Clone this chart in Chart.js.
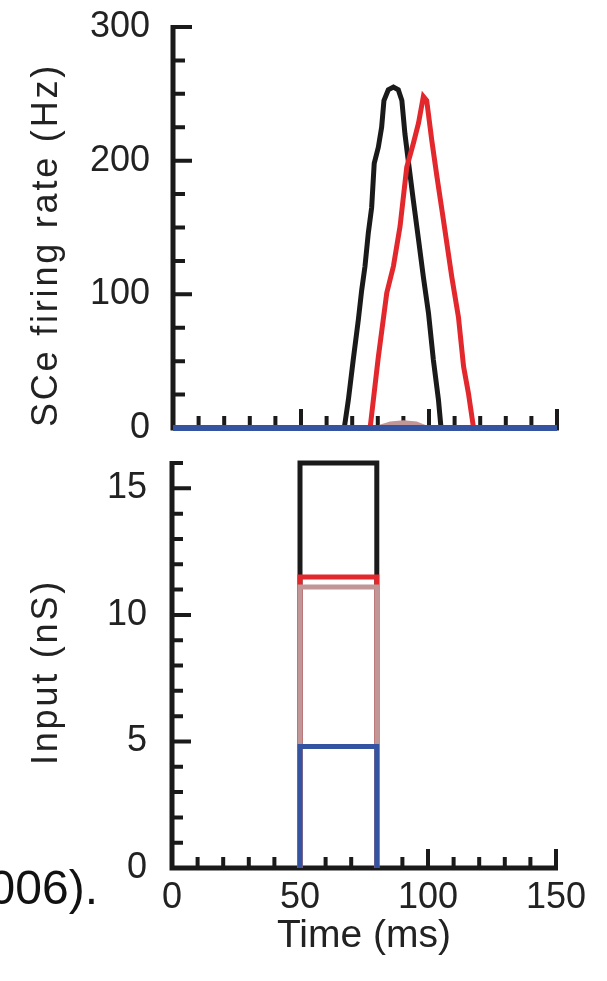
<!DOCTYPE html>
<html>
<head>
<meta charset="utf-8">
<title>SCe firing rate and input</title>
<script src="https://cdn.jsdelivr.net/npm/chart.js@4.4.0/dist/chart.umd.min.js"></script>
<style>
  body { margin: 0; background: #fff; }
  #wrap { position: relative; width: 607px; height: 981px; overflow: hidden; }
  #rate-box { position: absolute; left: 0; top: 0; width: 607px; height: 460px; }
  #input-box { position: absolute; left: 0; top: 440px; width: 607px; height: 541px; }
  .y-title {
    position: absolute;
    white-space: nowrap;
    font: 36px "Liberation Sans", Arial, sans-serif;
    line-height: 36px;
    letter-spacing: 2.8px;
    color: #222;
    transform: translate(-50%, -50%) rotate(-90deg);
  }
  #rate-title { left: 45px; top: 245px; }
  #input-title { left: 45px; top: 672px; }
  #cut-text {
    position: absolute;
    right: 509px;
    top: 864px;
    white-space: nowrap;
    font: 48px "Liberation Sans", Arial, sans-serif;
    line-height: 48px;
    color: #111;
  }
</style>
</head>
<body>
<div id="wrap">
  <div id="rate-box"><canvas id="rate-chart" width="607" height="460"></canvas></div>
  <div id="input-box"><canvas id="input-chart" width="607" height="541"></canvas></div>
  <div class="y-title" id="rate-title">SCe firing rate (Hz)</div>
  <div class="y-title" id="input-title">Input (nS)</div>
  <div id="cut-text">006).</div>
</div>
<script>
// tick labels
const timeTicks = [0, 50, 100, 150];
const rateTicks = [0, 100, 200, 300];
const inputTicks = [0, 5, 10, 15];

// SCe firing rate traces (Hz) against time (ms)
const blackTimes = [66.9, 68.5, 70.4, 72.4, 73.7, 75.0, 76.3, 77.6, 78.6, 80.2, 81.5, 82.4, 84.1, 86.1, 88.0, 89.4, 90.6, 91.9, 93.9, 95.9, 97.8, 99.8, 101.7, 103.7, 104.7];
const blackRate = [0, 21, 51, 81, 103, 121, 146, 165, 198, 210, 225, 245, 253, 255, 253, 245, 220, 200, 170, 141, 113, 86, 51, 21, 0];
const redTimes = [77.0, 80.2, 83.5, 86.1, 88.7, 91.3, 93.9, 95.9, 97.8, 99.1, 101.1, 103.1, 105.6, 108.9, 111.5, 113.5, 115.4, 117.4];
const redRate = [0, 53, 101, 121, 151, 195, 213, 228, 248, 245, 215, 188, 156, 113, 83, 46, 26, 0];
const pinkTimes = [80, 85, 90, 95, 99];
const pinkRate = [0, 3, 4, 3, 0];
const blueTimes = [0, 150];
const blueRate = [0, 0];

// input pulses (nS), on from 50 to 80 ms
const pulseTimes = [50, 50, 80, 80];
const blackInput = [0, 16, 16, 0];
const redInput = [0, 11.5, 11.5, 0];
const pinkInput = [0, 11.1, 11.1, 0];
const blueInput = [0, 4.8, 4.8, 0];

const BLACK = "#1a1a1a";
const RED = "#e2282c";
const PINK = "#c09697";
const BLUE = "#3454a2";

Chart.defaults.font.family = '"Liberation Sans", Arial, sans-serif';
Chart.defaults.color = "#222";

// pair up x and y arrays for a line dataset
function points(xs, ys) {
    return xs.map((x, i) => ({ x: x, y: ys[i] }));
}

function trace(label, xs, ys, color, width) {
    return {
        label: label,
        data: points(xs, ys),
        borderColor: color,
        borderWidth: width,
        pointRadius: 0,
        tension: 0,
        fill: false,
        clip: false,
        borderJoinStyle: "miter",
        borderCapStyle: "butt"
    };
}

// fixed y-axis box; drop the label overhang so the plot keeps its height
function fixYAxis(width) {
    return s => {
        s.width = width;
        s.paddingTop = 0;
        s.paddingBottom = 0;
    };
}

// axis lines with inward ticks, placed through the chart's scales
const inwardAxes = {
    id: "inwardAxes",
    beforeDatasetsDraw(chart, args, opts) {
        const ctx = chart.ctx;
        const xs = chart.scales.x;
        const ys = chart.scales.y;
        const x0 = xs.getPixelForValue(xs.min);
        const y0 = ys.getPixelForValue(ys.min);
        ctx.save();
        ctx.strokeStyle = BLACK;
        ctx.lineCap = "butt";
        ctx.lineWidth = 5;
        ctx.beginPath();
        ctx.moveTo(x0, ys.getPixelForValue(ys.max) - 2);
        ctx.lineTo(x0, y0 + 2.5);
        ctx.moveTo(x0 - 2.5, y0);
        ctx.lineTo(xs.getPixelForValue(xs.max) + 2, y0);
        ctx.stroke();
        ctx.lineWidth = 4;
        ctx.beginPath();
        for (let v = xs.min + opts.xStep; v <= xs.max + 1e-6; v += opts.xStep) {
            const px = xs.getPixelForValue(v);
            const len = Math.round(v) % opts.xMajor === 0 ? opts.major : opts.minor;
            ctx.moveTo(px, y0);
            ctx.lineTo(px, y0 - len);
        }
        for (let v = ys.min + opts.yStep; v <= ys.max + 1e-6; v += opts.yStep) {
            const py = ys.getPixelForValue(v);
            const len = Math.round(v) % opts.yMajor === 0 ? opts.major : opts.minor;
            ctx.moveTo(x0, py);
            ctx.lineTo(x0 + len, py);
        }
        ctx.stroke();
        ctx.restore();
    }
};

const tickFont = { size: 36, lineHeight: 1.2 };

// top panel: firing rate
new Chart(document.getElementById("rate-chart").getContext("2d"), {
    type: "line",
    data: {
        datasets: [
            trace("blue", blueTimes, blueRate, BLUE, 6),
            trace("pink", pinkTimes, pinkRate, PINK, 5),
            trace("red", redTimes, redRate, RED, 5),
            trace("black", blackTimes, blackRate, BLACK, 5)
        ]
    },
    options: {
        responsive: false,
        animation: false,
        events: [],
        layout: { padding: { left: 0, right: 50, top: 27, bottom: 32 } },
        plugins: {
            legend: { display: false },
            tooltip: { enabled: false },
            inwardAxes: { xStep: 10, xMajor: 50, yStep: 25, yMajor: 100, major: 19, minor: 12 }
        },
        scales: {
            x: {
                type: "linear",
                min: 0,
                max: 150,
                grid: { display: false, drawTicks: false },
                border: { display: false },
                ticks: { display: false },
                afterFit: s => { s.height = 0; }
            },
            y: {
                type: "linear",
                min: 0,
                max: 300,
                grid: { display: false, drawTicks: false },
                border: { display: false },
                ticks: { font: tickFont, padding: 23 },
                afterBuildTicks: s => { s.ticks = rateTicks.map(v => ({ value: v })); },
                afterFit: fixYAxis(173)
            }
        }
    },
    plugins: [inwardAxes]
});

// bottom panel: input conductance
new Chart(document.getElementById("input-chart").getContext("2d"), {
    type: "line",
    data: {
        datasets: [
            trace("blue", pulseTimes, blueInput, BLUE, 5),
            trace("pink", pulseTimes, pinkInput, PINK, 5),
            trace("red", pulseTimes, redInput, RED, 5),
            trace("black", pulseTimes, blackInput, BLACK, 5)
        ]
    },
    options: {
        responsive: false,
        animation: false,
        events: [],
        layout: { padding: { left: 0, right: 51, top: 23, bottom: 0 } },
        plugins: {
            legend: { display: false },
            tooltip: { enabled: false },
            inwardAxes: { xStep: 10, xMajor: 50, yStep: 1, yMajor: 5, major: 19, minor: 11 }
        },
        scales: {
            x: {
                type: "linear",
                min: 0,
                max: 150,
                grid: { display: false, drawTicks: false },
                border: { display: false },
                ticks: { font: tickFont, padding: 8, maxRotation: 0 },
                afterBuildTicks: s => { s.ticks = timeTicks.map(v => ({ value: v })); },
                title: {
                    display: true,
                    text: "Time (ms)",
                    font: { size: 39 },
                    padding: { top: 0, bottom: 21 }
                },
                afterFit: s => { s.height = 113; }
            },
            y: {
                type: "linear",
                min: 0,
                max: 16,
                grid: { display: false, drawTicks: false },
                border: { display: false },
                ticks: { font: tickFont, padding: 25 },
                afterBuildTicks: s => { s.ticks = inputTicks.map(v => ({ value: v })); },
                afterFit: fixYAxis(172)
            }
        }
    },
    plugins: [inwardAxes]
});
</script>
</body>
</html>
